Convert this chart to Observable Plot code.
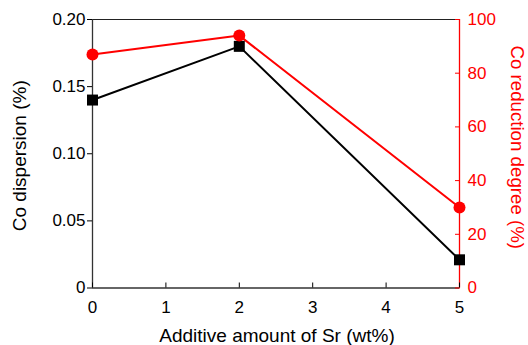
<!DOCTYPE html>
<html>
<head>
<meta charset="utf-8">
<script src="https://cdn.jsdelivr.net/npm/d3@7"></script>
<script src="https://cdn.jsdelivr.net/npm/@observablehq/plot@0.6"></script>
<style>
  html, body { margin: 0; padding: 0; background: #fff; }
</style>
</head>
<body>
<div id="chart"></div>
<script>
// Data
const srAmount = [0, 2, 5];
const coDispersion = [0.14, 0.18, 0.021];
const reductionDegree = [87, 94, 30];

const xTicks = [0, 1, 2, 3, 4, 5];
const dispTicks = [0, 0.05, 0.10, 0.15, 0.20];
const dispTickLabels = ["0", "0.05", "0.10", "0.15", "0.20"];
const redTicks = [0, 20, 40, 60, 80, 100];

const dispMax = 0.2, redMax = 100;
const k = dispMax / redMax;

const disp = srAmount.map((x, i) => ({x, y: coDispersion[i]}));
const red = srAmount.map((x, i) => ({x, y: reductionDegree[i] * k}));

const RED = "#ff0000";
const FS = 17;
const TFS = 19;

const chart = Plot.plot({
  width: 528,
  height: 345,
  marginLeft: 92,
  marginRight: 69,
  marginTop: 19,
  marginBottom: 57.5,
  style: {fontFamily: "'Liberation Sans', Arial, sans-serif", fontSize: FS + "px", background: "#fff", color: "#000"},
  x: {domain: [0, 5]},
  y: {domain: [0, dispMax]},
  marks: [
    // frame
    Plot.ruleY([dispMax], {stroke: "#222", strokeWidth: 1}),
    Plot.ruleY([0], {stroke: "#333", strokeWidth: 1.3}),
    Plot.ruleX([0], {stroke: "#333", strokeWidth: 1.3}),
    Plot.ruleX([5], {stroke: RED, strokeWidth: 1.3}),
    // left axis
    Plot.axisY({ticks: dispTicks, tickFormat: (d) => dispTickLabels[dispTicks.indexOf(d)], tickSize: 5, tickPadding: 2, label: null, fontSize: FS}),
    // right axis
    Plot.axisY({anchor: "right", ticks: redTicks.map(v => v * k), tickSize: 0, tickPadding: 8, tickFormat: (d) => String(Math.round(d / k)), label: null, color: RED, fontSize: FS}),
    Plot.axisY({anchor: "right", ticks: redTicks.map(v => v * k), tickSize: 5, dx: -5, tickFormat: () => "", label: null, stroke: RED}),
    // bottom axis
    Plot.axisX({ticks: xTicks, tickSize: 0, tickPadding: 13, tickFormat: (d) => String(d), label: null, fontSize: FS}),
    Plot.axisX({ticks: xTicks, tickSize: 5, dy: -5, tickFormat: () => "", label: null}),
    // titles
    Plot.text(["Co dispersion (%)"], {frameAnchor: "left", text: d => d, rotate: -90, textAnchor: "middle", lineAnchor: "middle", dx: -73, dy: 2, fontSize: TFS, fill: "#000"}),
    Plot.text(["Co reduction degree (%)"], {frameAnchor: "right", text: d => d, rotate: 90, textAnchor: "middle", lineAnchor: "middle", dx: 57, dy: -6.5, fontSize: 18.7, fill: RED}),
    Plot.text(["Additive amount of Sr (wt%)"], {frameAnchor: "bottom", text: d => d, textAnchor: "middle", lineAnchor: "middle", dx: 1, dy: 47.5, fontSize: TFS, fill: "#000"}),
    // series
    Plot.line(disp, {x: "x", y: "y", stroke: "#000", strokeWidth: 2}),
    Plot.line(red, {x: "x", y: "y", stroke: RED, strokeWidth: 2}),
    Plot.dot(disp, {x: "x", y: "y", symbol: "square", r: 6.2, fill: "#000", stroke: "none"}),
    Plot.dot(red, {x: "x", y: "y", symbol: "circle", r: 6, fill: RED, stroke: "none"})
  ]
});
document.getElementById("chart").appendChild(chart);
</script>
</body>
</html>
